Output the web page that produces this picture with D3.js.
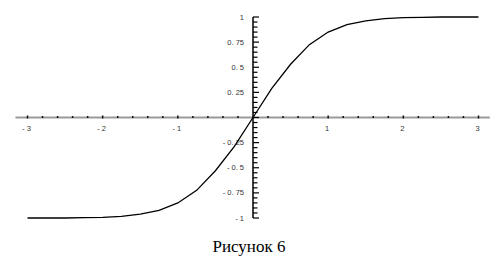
<!DOCTYPE html>
<html><head><meta charset="utf-8">
<script src="https://cdn.jsdelivr.net/npm/d3@7"></script>
<style>body{margin:0;background:#fff}svg{display:block}</style>
</head><body><svg id="c" width="498" height="260"></svg>
<script>
const xs = [-3,-2.75,-2.5,-2.25,-2,-1.75,-1.5,-1.25,-1,-0.75,-0.5,-0.25,0,0.25,0.5,0.75,1,1.25,1.5,1.75,2,2.25,2.5,2.75,3];
const ys = [-1,-1,-1,-0.997,-0.993,-0.983,-0.962,-0.925,-0.85,-0.725,-0.53,-0.29,0,0.29,0.53,0.725,0.85,0.925,0.962,0.983,0.993,0.997,1,1,1];
const xTickVals = [-3,-2,-1,1,2,3];
const xTickLabels = ["- 3","- 2","- 1","1","2","3"];
const yTickVals = [1,0.75,0.5,0.25,-0.25,-0.5,-0.75,-1];
const yTickLabels = ["1","0. 75","0. 5","0. 25","- 0. 25","- 0. 5","- 0. 75","- 1"];
const caption = "Рисунок 6";

const svg = d3.select("#c");
const x = d3.scaleLinear().domain([-3,3]).range([27.5,478.5]);
const y = d3.scaleLinear().domain([-1,1]).range([218,17]);

// horizontal axis
svg.append("line").attr("x1",x(-3.16)).attr("x2",x(3.15)).attr("y1",y(0)).attr("y2",y(0))
  .attr("stroke","#999").attr("stroke-width",2);
// x minor/major ticks
const xMinor = d3.range(-30,31,2).map(d=>d/10).filter(d=>d!==0);
svg.append("g").selectAll("rect").data(xMinor).join("rect")
  .attr("x",d=>x(d)-0.75).attr("y",d=>y(0)-(Number.isInteger(d)?2:1.5))
  .attr("width",1.5).attr("height",d=>Number.isInteger(d)?3:2).attr("fill","#111");
svg.append("g").selectAll("text").data(xTickVals).join("text")
  .attr("x",d=>x(d)-1).attr("y",y(0)+13).attr("text-anchor","middle")
  .attr("font-family","Liberation Sans, Arial, sans-serif").attr("font-size",7.5).attr("fill","#333")
  .text((d,i)=>xTickLabels[i]);

// vertical axis
svg.append("line").attr("x1",x(0)).attr("x2",x(0)).attr("y1",y(1)).attr("y2",y(-1))
  .attr("stroke","#000").attr("stroke-width",1.5);
const yMinor = d3.range(-20,21,1).map(d=>d/20);
svg.append("g").selectAll("line").data(yMinor).join("line")
  .attr("x1",x(0)).attr("x2",d=>x(0)+(Math.round(d*100)%25===0?6:4.5))
  .attr("y1",d=>y(d)).attr("y2",d=>y(d)).attr("stroke","#000").attr("stroke-width",1.2);
svg.append("g").selectAll("text").data(yTickVals).join("text")
  .attr("x",x(0)-9).attr("y",d=>y(d)+2.5).attr("text-anchor","end")
  .attr("font-family","Liberation Sans, Arial, sans-serif").attr("font-size",7.5).attr("fill","#333")
  .text((d,i)=>yTickLabels[i]);

// curve
const pts = xs.map((d,i)=>[d,ys[i]]);
svg.append("path").datum(pts)
  .attr("d",d3.line().x(d=>x(d[0])).y(d=>y(d[1])))
  .attr("fill","none").attr("stroke","#000").attr("stroke-width",1.3);

svg.append("text").attr("x",249).attr("y",252).attr("text-anchor","middle")
  .attr("font-family","Liberation Serif, Times New Roman, serif").attr("font-size",17).attr("fill","#000")
  .text(caption);
</script></body></html>
